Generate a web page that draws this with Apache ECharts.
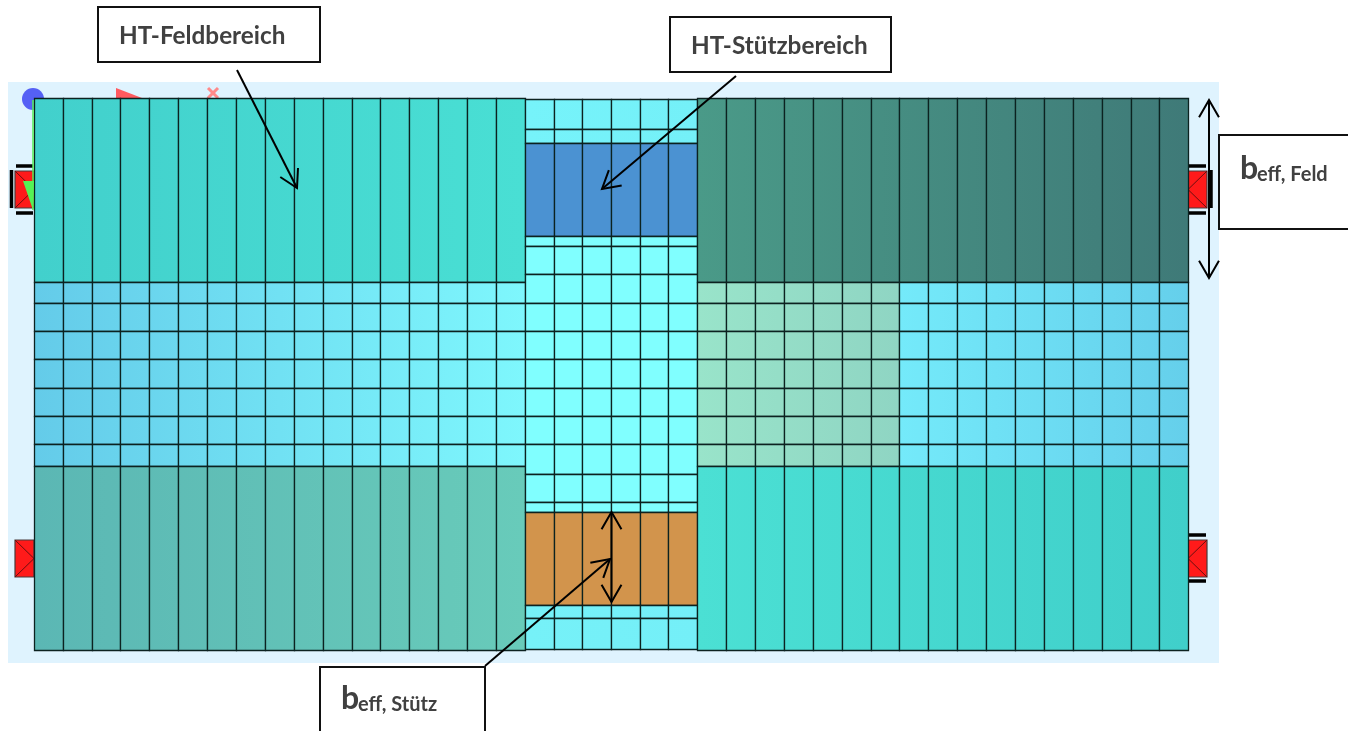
<!DOCTYPE html>
<html><head><meta charset="utf-8">
<style>html,body{margin:0;padding:0;background:#fff}#c{width:1348px;height:731px}</style>
<script src="https://cdn.jsdelivr.net/npm/echarts@6/dist/echarts.min.js"></script>
</head><body><div id="c"></div>
<script>
// Mesh lines
const xLeft  = [34,63,92,120,149,178,207,236,265,294,323,352,380,409,438,467,496,525];
const xMid   = [525,554,582,611,640,668,697];
const xGreen = [697,726,755,784,813,842,871,899];
const xRight = [697,726,755,784,813,842,871,899,928,957,986,1015,1044,1073,1102,1131,1159,1188];
const xPale  = [899,928,957,986,1015,1044,1073,1102,1131,1159,1188];
const yTop   = [98,282];
const yBand  = [282,303,331,359,388,416,444,466];
const yBot   = [466,650];
const yMidA  = [99,129,143];
const yMidB  = [143,236];
const yMidC  = [236,246,274,303,331,359,388,416,444,474,502,512];
const yMidD  = [512,605];
const yMidE  = [605,618,649];
// Mesh zones: x lines, y lines, colour at the left edge, colour at the right edge
const zones = [
  [xLeft,  yTop,  '#42d0cc', '#49dfd4'],
  [xLeft,  yBand, '#64cbe9', '#7ef7fd'],
  [xLeft,  yBot,  '#5bb7b4', '#68cbba'],
  [xMid,   yMidA, '#76f3fa', '#74f0f8'],
  [xMid,   yMidB, '#4b92d2', '#4b92d2'],
  [xMid,   yMidC, '#80ffff', '#80ffff'],
  [xMid,   yMidD, '#d2944c', '#d2944c'],
  [xMid,   yMidE, '#76f1f8', '#74eff8'],
  [xRight, yTop,  '#4a9a88', '#3f7a78'],
  [xGreen, yBand, '#99e4ca', '#8fd5c3'],
  [xPale,  yBand, '#74eafa', '#65cfeb'],
  [xRight, yBot,  '#4be0d4', '#40cfca']
];
// Supports: x from, x to, y from, y to, tip side
const supports = [[15,34,171,208,'r'],[15,34,540,577,'r'],[1188,1207,171,208,'l'],[1188,1207,540,577,'l']];
const bars = [[16,33,166,'h'],[16,33,213,'h'],[1188,1206,166,'h'],[1188,1206,213,'h'],[1188,1206,535,'h'],[1188,1206,581,'h'],[11.5,170,208,'v'],[1211,170,208,'v']];
const callouts = [
  [98,7,320,62,'HT-Feldbereich',119,36],
  [670,17,891,72,'HT-Stützbereich',691,46],
  [1219,135,1360,229,'beff, Feld',1240,169],
  [320,667,485,745,'beff, Stütz',341,699]
];
// Arrows: from, to, heads at both ends or not
const arrows = [
  [237,70,297,188,0],
  [736,76,602,189,0],
  [485,666,610,559,0],
  [611.5,512,611.5,602,1],
  [1209,100,1209,278,1]
];
const panel = [8,82,1219,663];

const chart = echarts.init(document.getElementById('c'),null,{renderer:'canvas'});
const G = echarts.graphic;
const snap = v => Math.round(v)+0.5;

function headLines(api,x0,y0,x1,y1){
  const p0=api.coord([x0,y0]),p1=api.coord([x1,y1]);
  const a=Math.atan2(p1[1]-p0[1],p1[0]-p0[0]),L=20,s=0.52;
  return {type:'polyline',shape:{points:[
    [p1[0]-L*Math.cos(a-s),p1[1]-L*Math.sin(a-s)],p1,
    [p1[0]-L*Math.cos(a+s),p1[1]-L*Math.sin(a+s)]]},
    style:{fill:null,stroke:'#000',lineWidth:2},silent:true};
}
const cells=[];
zones.forEach((z,zi)=>{
  for(let i=0;i<z[0].length-1;i++)for(let j=0;j<z[1].length-1;j++)
    cells.push([z[0][i],z[1][j],z[0][i+1],z[1][j+1],zi]);
});
function renderCell(p,api){
  const a=api.coord([api.value(0),api.value(1)]),b=api.coord([api.value(2),api.value(3)]);
  const z=zones[api.value(4)];
  const l=api.coord([z[0][0],0])[0],r=api.coord([z[0][z[0].length-1],0])[0];
  const x=snap(a[0]),y=snap(a[1]);
  return {type:'rect',shape:{x:x,y:y,width:snap(b[0])-x,height:snap(b[1])-y},
    style:{fill:new G.LinearGradient(l,0,r,0,[{offset:0,color:z[2]},{offset:1,color:z[3]}],true),
      stroke:'#0c2220',lineWidth:1.3}};
}
const option={
  animation:false,
  grid:{left:0,top:0,width:1348,height:731,containLabel:false},
  xAxis:{type:'value',min:0,max:1348,show:false},
  yAxis:{type:'value',min:0,max:731,inverse:true,show:false},
  tooltip:{show:false},
  series:[
    {type:'custom',z:1,silent:true,clip:false,data:[panel],encode:{x:[0,2],y:[1,3]},
     renderItem(p,api){const a=api.coord([api.value(0),api.value(1)]),b=api.coord([api.value(2),api.value(3)]);
       const ctr=api.coord([33,99]),t=api.coord([116,88]),t2=api.coord([116,98]),t3=api.coord([142,98]),m=api.coord([213,93]);
       return {type:'group',children:[
         {type:'rect',shape:{x:a[0],y:a[1],width:b[0]-a[0],height:b[1]-a[1]},style:{fill:'#dff3fe'}},
         {type:'circle',shape:{cx:ctr[0],cy:ctr[1],r:11},style:{fill:'#5560f5'}},
         {type:'polygon',shape:{points:[t,t2,t3]},style:{fill:'#ff5a5f'}},
         {type:'line',shape:{x1:m[0]-5,y1:m[1]-5,x2:m[0]+5,y2:m[1]+5},style:{stroke:'#ff8a8a',lineWidth:3}},
         {type:'line',shape:{x1:m[0]+5,y1:m[1]-5,x2:m[0]-5,y2:m[1]+5},style:{stroke:'#ff8a8a',lineWidth:3}}
       ]};}},
    {type:'custom',z:2,silent:true,clip:false,data:supports.map(s=>s.slice(0,4).concat(s[4]==='r'?1:0)),encode:{x:[0,1],y:[2,3]},
     renderItem(p,api){
       const a=api.coord([api.value(0),api.value(2)]),b=api.coord([api.value(1),api.value(3)]);
       const right=api.value(4)===1,tip=right?b[0]:a[0],back=right?a[0]:b[0],my=(a[1]+b[1])/2;
       return {type:'group',children:[
         {type:'rect',shape:{x:a[0],y:a[1],width:b[0]-a[0],height:b[1]-a[1]},style:{fill:'#ff1a1a',stroke:'#4a3a3a',lineWidth:1.2}},
         {type:'polyline',shape:{points:[[back,a[1]],[tip,my],[back,b[1]]]},style:{fill:null,stroke:'#6a0f0f',lineWidth:1}}
       ]};}},
    {type:'custom',z:2,silent:true,clip:false,data:bars.map(b=>b[3]==='h'?[b[0],b[2],b[1],b[2]]:[b[0],b[1],b[0],b[2]]),encode:{x:[0,2],y:[1,3]},
     renderItem(p,api){const a=api.coord([api.value(0),api.value(1)]),b=api.coord([api.value(2),api.value(3)]);
       return {type:'line',shape:{x1:a[0],y1:a[1],x2:b[0],y2:b[1]},style:{stroke:'#000',lineWidth:3.5}};}},
    {type:'custom',z:3,silent:true,clip:false,data:cells,encode:{x:[0,2],y:[1,3]},renderItem:renderCell},
    {type:'custom',z:4,silent:true,clip:false,data:[[34,100,33,181,23,181,33,210]],encode:{x:[0,2],y:[1,3]},
     renderItem(p,api){
       const t=api.coord([33,100]),b=api.coord([33,210]),u=api.coord([23,181]),v=api.coord([34,181]);
       return {type:'group',children:[
         {type:'line',shape:{x1:t[0],y1:t[1],x2:b[0],y2:b[1]},style:{stroke:'#55ee55',lineWidth:1.5}},
         {type:'polygon',shape:{points:[u,v,b]},style:{fill:'#55f255'}}
       ]};}},
    {type:'custom',z:5,silent:true,clip:false,data:arrows,encode:{x:[0,2],y:[1,3]},
     renderItem(p,api){
       const v=[0,1,2,3,4].map(i=>api.value(i));
       const a=api.coord([v[0],v[1]]),b=api.coord([v[2],v[3]]);
       const ch=[{type:'line',shape:{x1:a[0],y1:a[1],x2:b[0],y2:b[1]},style:{stroke:'#000',lineWidth:2}},
         headLines(api,v[0],v[1],v[2],v[3])];
       if(v[4])ch.push(headLines(api,v[2],v[3],v[0],v[1]));
       return {type:'group',children:ch};}},
    {type:'custom',z:6,silent:true,clip:false,data:callouts.map(c=>c.slice(0,4).concat(c[5],c[6])),encode:{x:[0,2],y:[1,3]},
     renderItem(p,api){
       const i=p.dataIndex,c=callouts[i];
       const a=api.coord([c[0],c[1]]),b=api.coord([c[2],c[3]]),t=api.coord([c[5],c[6]]);
       const ch=[{type:'rect',shape:{x:a[0],y:a[1],width:b[0]-a[0],height:b[1]-a[1]},style:{fill:'#fff',stroke:'#111',lineWidth:2}}];
       if(c[4].startsWith('beff')){
         ch.push({type:'text',x:t[0],y:t[1],style:{text:'b',font:'bold 32px Lato',fill:'#404040',textVerticalAlign:'middle'}});
         ch.push({type:'text',x:t[0]+17,y:t[1]+6,style:{text:c[4].slice(1),font:'bold 20px Lato',fill:'#404040',textVerticalAlign:'middle'}});
       } else {
         ch.push({type:'text',x:t[0],y:t[1],style:{text:c[4],font:'bold 24.3px Lato',fill:'#404040',textVerticalAlign:'middle'}});
       }
       return {type:'group',children:ch};}}
  ]
};
chart.setOption(option);
</script></body></html>
